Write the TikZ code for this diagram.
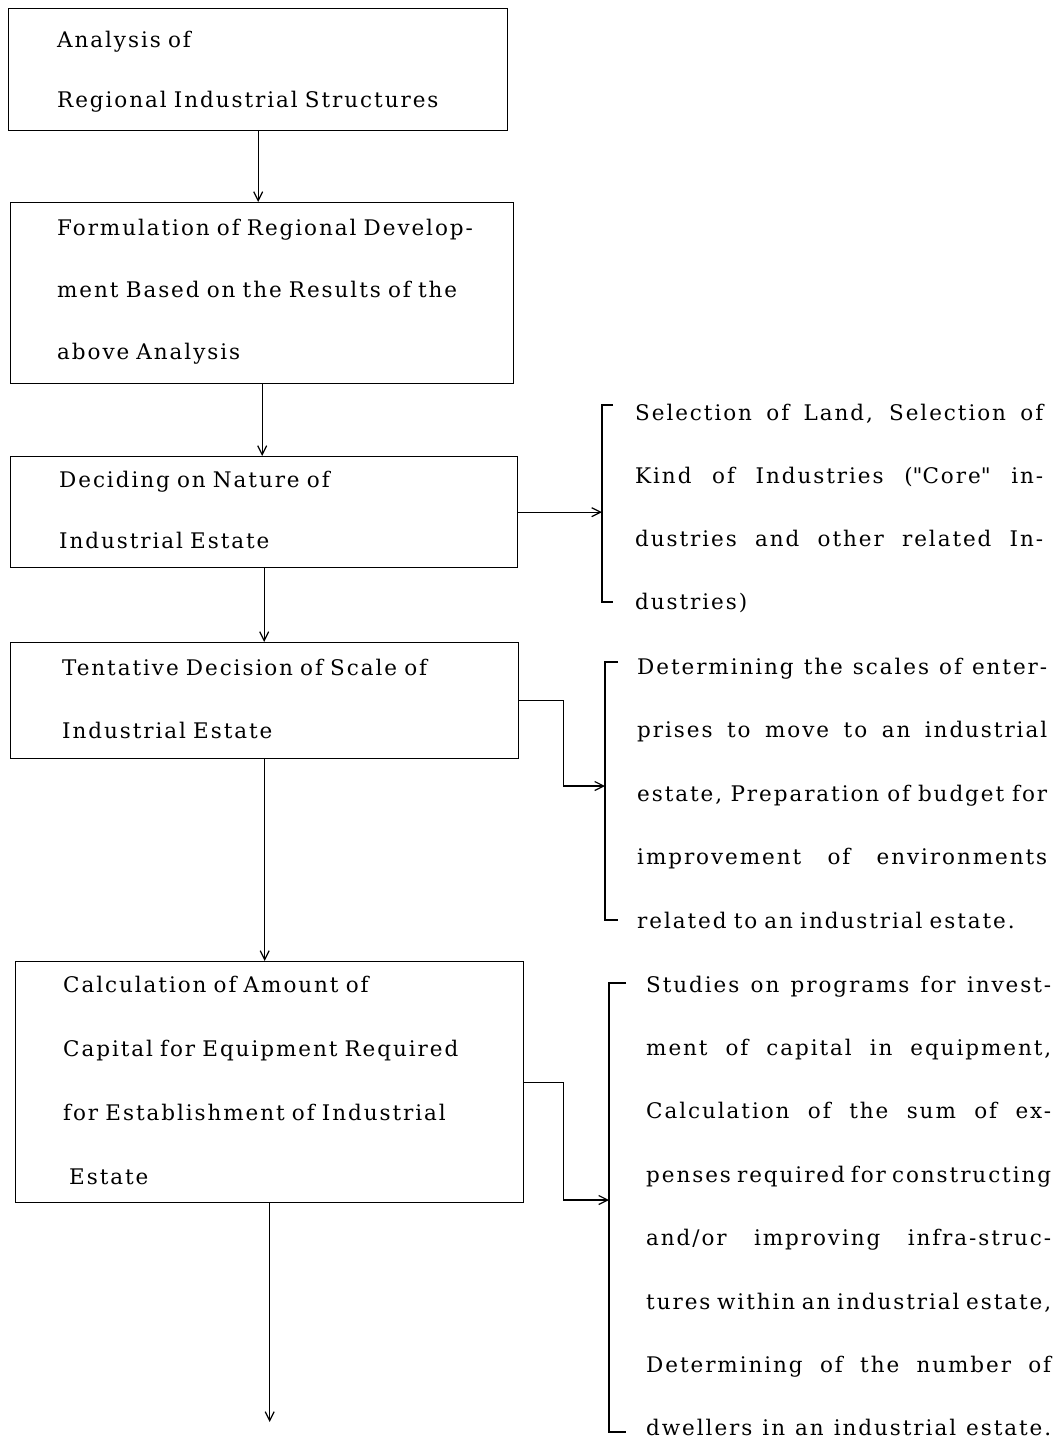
\documentclass[tikz,border=0pt]{standalone}
\usepackage{fontspec}
\setmainfont{DejaVu Serif}[LetterSpace=9]
\usetikzlibrary{arrows.meta}
\newcommand\jline[2]{\leavevmode\hbox to #1{\spaceskip=0.3em plus 20em minus 0.12em\relax #2}}
\begin{document}
\begin{tikzpicture}[x=1pt,y=-1pt,
  box/.style={draw, line width=1.4pt, rectangle, inner sep=0pt, anchor=north west},
  conn/.style={draw, line width=1.3pt, -{Straight Barb[length=9pt,width=9pt,line width=1.2pt]}},
  brk/.style={draw, line width=1.3pt},
  txt/.style={anchor=base west, inner sep=0pt, align=left, text width=#1},
  lead/.style={font=\fontsize{21.5pt}{#1}\selectfont}]
\useasboundingbox[fill=white] (0,0) rectangle (1063,1443);

% boxes
\node[box, minimum width=499pt, minimum height=122pt] (b1) at (8,8) {};
\node[box, minimum width=503pt, minimum height=181pt] (b2) at (10,202) {};
\node[box, minimum width=507pt, minimum height=111pt] (b3) at (10,456) {};
\node[box, minimum width=508pt, minimum height=116pt] (b4) at (10,642) {};
\node[box, minimum width=508pt, minimum height=241pt] (b5) at (15,961) {};

% box texts
\node[txt=445pt, lead=60pt] (t1) at (57,47) {Analysis of\\Regional Industrial Structures};
\node[txt=450pt, lead=62pt] (t2) at (57,235) {Formulation of Regional Develop-\\ment Based on the Results of the\\above Analysis};
\node[txt=450pt, lead=61pt] (t3) at (59,487) {Deciding on Nature of\\Industrial Estate};
\node[txt=450pt, lead=63pt] (t4) at (62,675) {Tentative Decision of Scale of\\Industrial Estate};
\node[txt=455pt, lead=64pt] (t5) at (63,992) {Calculation of Amount of\\Capital for Equipment Required\\for Establishment of Industrial\\\hspace*{6pt}Estate};

% right-hand texts
\node[txt=412pt, lead=63pt] (r1) at (635,420) {\jline{408pt}{Selection of Land, Selection of}\\\jline{408pt}{Kind of Industries (\textquotedbl Core\textquotedbl\ in-}\\\jline{408pt}{dustries and other related In-}\\dustries)};
\node[txt=413pt, lead=63.5pt] (r2) at (637,674) {\jline{410pt}{Determining the scales of enter-}\\\jline{410pt}{prises to move to an industrial}\\\jline{410pt}{estate, Preparation of budget for}\\\jline{410pt}{improvement of environments}\\related to an industrial estate.};
\node[txt=407pt, lead=63.4pt] (r3) at (646,992) {\jline{405pt}{Studies on programs for invest-}\\\jline{405pt}{ment of capital in equipment,}\\\jline{405pt}{Calculation of the sum of ex-}\\\jline{405pt}{penses required for constructing}\\\jline{405pt}{and/or improving infra-struc-}\\\jline{405pt}{tures within an industrial estate,}\\\jline{405pt}{Determining of the number of}\\\jline{405pt}{dwellers in an industrial estate.}};

% bracket coordinates
\coordinate (k1t) at (602,405);
\coordinate (k1b) at (602,602);
\coordinate (k2t) at (605,662);
\coordinate (k2b) at (605,920);
\coordinate (k3t) at (609,983);
\coordinate (k3b) at (609,1432);
\draw[brk] ([xshift=11pt]k1t) -- (k1t) -- (k1b) -- ([xshift=11pt]k1b);
\draw[brk] ([xshift=13pt]k2t) -- (k2t) -- (k2b) -- ([xshift=13pt]k2b);
\draw[brk] ([xshift=17pt]k3t) -- (k3t) -- (k3b) -- ([xshift=17pt]k3b);

\coordinate (a2) at (605,786);
\coordinate (a3) at (609,1200);
\coordinate (fin) at (274,1422);

% vertical flow
\draw[conn] (b1.south) -- (b1.south |- b2.north);
\draw[conn] (b2.south) -- (b2.south |- b3.north);
\draw[conn] (b3.south) -- (b3.south |- b4.north);
\draw[conn] (b4.south) -- (b4.south |- b5.north);
\draw[conn] (b5.south) -- (b5.south |- fin);

% side connectors
\draw[conn] (b3.east) -- (b3.east -| k1t);
\draw[conn] (b4.east) -- ++(44,0) |- (a2);
\draw[conn] (b5.east) -- ++(39,0) |- (a3);
\end{tikzpicture}
\end{document}
